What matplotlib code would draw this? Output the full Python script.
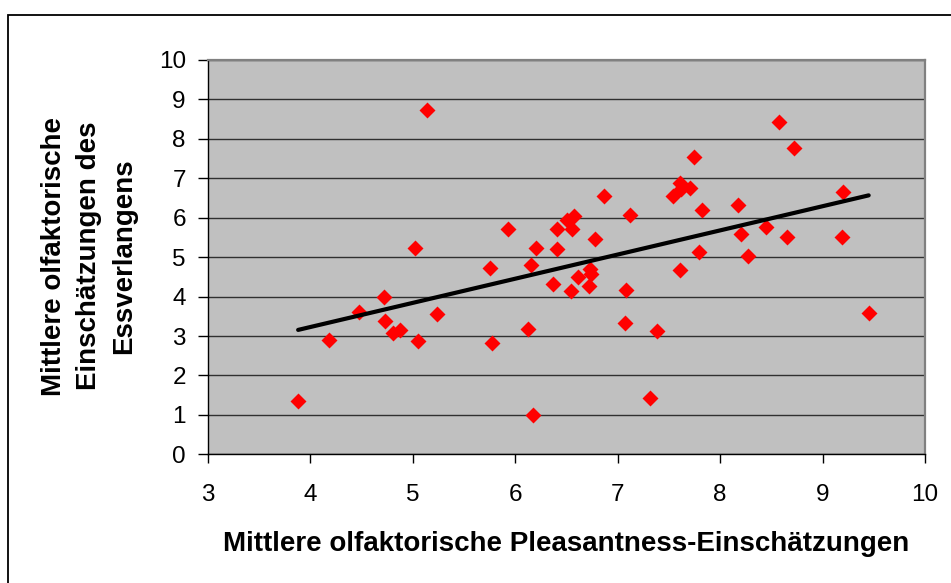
import numpy as np
import matplotlib
matplotlib.use("Agg")
import matplotlib.pyplot as plt
from matplotlib.path import Path
from matplotlib.patches import Rectangle

# Daten: mittlere Pleasantness- und Essverlangen-Einschätzungen
pleasantness = [3.88, 4.18, 4.47, 4.72, 4.73, 4.81, 4.87, 5.02, 5.14, 5.05,
                5.24, 5.75, 5.77, 5.93, 6.12, 6.15, 6.17, 6.20, 6.37, 6.41,
                6.41, 6.50, 6.57, 6.54, 6.55, 6.61, 6.74, 6.72, 6.73, 6.78,
                6.87, 7.08, 7.07, 7.12, 7.32, 7.38, 7.54, 7.61, 7.62, 7.71,
                7.74, 7.61, 7.79, 7.82, 8.17, 8.20, 8.27, 8.45, 8.57, 8.72,
                8.65, 9.20, 9.19, 9.45]
essverlangen = [1.35, 2.90, 3.60, 3.99, 3.38, 3.08, 3.16, 5.23, 8.74, 2.87,
                3.57, 4.72, 2.82, 5.71, 3.19, 4.80, 1.00, 5.23, 4.32, 5.71,
                5.21, 5.94, 6.04, 4.15, 5.71, 4.50, 4.57, 4.26, 4.71, 5.46,
                6.56, 4.16, 3.33, 6.06, 1.44, 3.13, 6.55, 6.87, 6.73, 6.75,
                7.54, 4.67, 5.14, 6.19, 6.33, 5.58, 5.03, 5.77, 8.42, 7.78,
                5.50, 6.64, 5.50, 3.58]

x_ticks = list(range(3, 11))
y_ticks = list(range(0, 11))

plt.rcParams['font.family'] = ['Liberation Sans', 'DejaVu Sans']

fig = plt.figure(figsize=(9.51, 5.83), dpi=100)

# Rahmen um das Diagramm (rechts/unten abgeschnitten)
fig.add_artist(Rectangle((8 / 951, -0.2), 1.2, 1.2 - 15 / 583,
                         transform=fig.transFigure, fill=False,
                         edgecolor='black', linewidth=1.3))

ax = fig.add_axes([208 / 951, 1 - 454.3 / 583, 717 / 951, 394.3 / 583])
ax.set_facecolor('#C0C0C0')

# Rautenmarker
diamond = Path([(-1, 0), (0, 1), (1, 0), (0, -1), (-1, 0)],
               [Path.MOVETO, Path.LINETO, Path.LINETO, Path.LINETO, Path.CLOSEPOLY])
ax.plot(pleasantness, essverlangen, linestyle='none', marker=diamond,
        markersize=11.5, color='#FF0000', markeredgewidth=0, zorder=3)

# Lineare Trendlinie
coef = np.polyfit(pleasantness, essverlangen, 1)
xs = np.array([min(pleasantness), max(pleasantness)])
ax.plot(xs, np.polyval(coef, xs), color='black', linewidth=3,
        solid_capstyle='round', zorder=4)

ax.set_xlim(3, 10)
ax.set_ylim(0, 10)
ax.set_xticks(x_ticks)
ax.set_yticks(y_ticks)
ax.yaxis.grid(True, color='#303030', linewidth=1)
ax.set_axisbelow(True)

ax.tick_params(axis='x', length=6.5, width=1, pad=15, labelsize=17.5)
ax.tick_params(axis='y', length=7, width=1, pad=9, labelsize=17.5)

ax.spines['top'].set_color('#808080')
ax.spines['right'].set_color('#808080')
ax.spines['top'].set_linewidth(1.6)
ax.spines['right'].set_linewidth(1.6)
ax.spines['left'].set_linewidth(1)
ax.spines['bottom'].set_linewidth(1)

fig.text(566.5 / 951, 1 - 544 / 583,
         "Mittlere olfaktorische Pleasantness-Einschätzungen",
         ha='center', va='center', fontsize=20, fontweight='bold')
fig.text(89 / 951, 1 - 256 / 583,
         "Mittlere olfaktorische\nEinschätzungen des\nEssverlangens",
         ha='center', va='center', rotation=90, multialignment='center',
         fontsize=20, fontweight='bold', linespacing=1.45)

fig.savefig('out.png', dpi=100)
